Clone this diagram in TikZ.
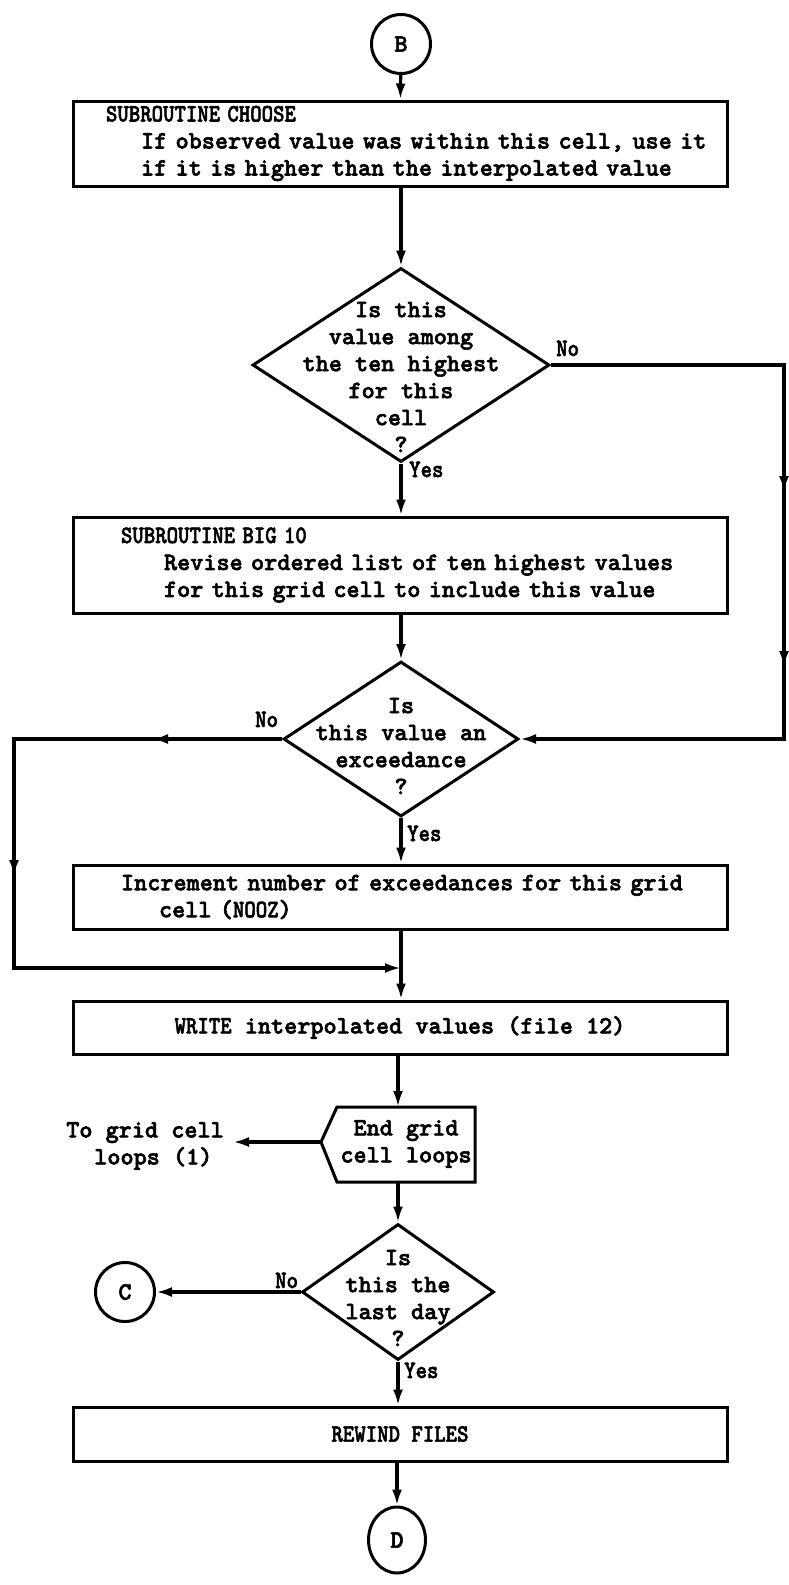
\documentclass[tikz,border=0pt]{standalone}
\usepackage{fontspec}
\usetikzlibrary{shapes.geometric,arrows.meta,decorations.markings}

% heavy typewriter face for all labels
\newfontfamily\tw{lmmonolt10-bold}[Extension=.otf, FakeBold=2.2]

\tikzset{
  flowline/.style={line width=3.2pt},
  flow/.style={flowline, ->},
  proc/.style={draw, line width=3pt, rectangle, minimum width=654pt, inner sep=0pt},
  decision/.style={draw, line width=3pt, diamond, inner sep=0pt},
  connector/.style={draw, line width=3pt, circle, minimum size=59pt, inner sep=0pt},
  txt/.style={align=center, inner sep=0pt},
  answer/.style={inner sep=0pt, anchor=base west},
  arrowsat/.style 2 args={postaction={decorate}, decoration={markings,
      mark=at position #1 with {\arrow{>}},
      mark=at position #2 with {\arrow{>}}}},
}
\newcommand{\narrow}[1]{\scalebox{0.87}[1]{#1}}

\begin{document}
\begin{tikzpicture}[x=1pt, y=-1pt,
  >={Latex[length=16pt,width=10pt]},
  every node/.style={font=\fontsize{25}{27}\selectfont\tw}]
\useasboundingbox (0,0) rectangle (789,1585);

% connectors at the ends
\node[connector] (B) at (401,44) {B};
\node[connector] (C) at (125,1292) {C};
\node[connector, ellipse, minimum width=57pt, minimum height=66pt] (D) at (397,1540) {D};

% process boxes
\node[proc, minimum height=85pt, text width=588pt, align=left] (choose) at (400,143.5)
  {\mbox{\narrow{SUBROUTINE CHOOSE}}\\
   \mbox{\hspace*{35pt}If observed value was within this cell, use it}\\
   \mbox{\hspace*{35pt}if it is higher than the interpolated value}};
\node[proc, minimum height=96pt, text width=558pt, align=left] (big) at (400,565)
  {\mbox{\narrow{SUBROUTINE BIG 10}}\\
   \mbox{\hspace*{43pt}Revise ordered list of ten highest values}\\
   \mbox{\hspace*{43pt}for this grid cell to include this value}};
\node[proc, minimum height=64pt, text width=558pt, align=left] (incr) at (400,897)
  {\mbox{Increment number of exceedances for this grid}\\
   \mbox{\hspace*{38pt}cell (\narrow{NOOZ})}};
\node[proc, minimum height=53pt] (write) at (400,1027.5)
  {\narrow{WRITE} interpolated values (file 12)};
\node[proc, minimum height=54pt] (rewind) at (400,1434)
  {\narrow{REWIND FILES}};

% decisions
\node[decision, minimum width=297pt, minimum height=194pt] (d1) at (401,365) {};
\node[txt] (d1t) at (401,377)
  {Is this\\value among\\the ten highest\\for this\\cell\\?};
\node[decision, minimum width=235pt, minimum height=155pt] (d2) at (401,739) {};
\node[txt] (d2t) at (401,746) {Is\\this value an\\exceedance\\?};
\node[decision, minimum width=192pt, minimum height=136pt] (d3) at (398,1292) {};
\node[txt] (d3t) at (398,1298) {Is\\this the\\last day\\?};

% loop end
\coordinate (lp) at (321,1142);
\draw[line width=3pt, line join=miter] (337,1107) -- (475,1107) -- (475,1182)
  -- (337,1182) -- (lp) -- cycle;
\node[txt] (loop) at (406,1144) {End grid\\cell loops};
\coordinate (loopN) at (398,1107);
\coordinate (loopS) at (398,1182);
\node[txt, align=left] (togrid) at (145,1146) {To grid cell\\\hspace*{28pt}loops (1)};
\coordinate (togridtip) at (233,1142);

% answer labels
\node[answer] (no1) at (556,356) {\narrow{No}};
\node[answer] (yes1) at (409,477) {\narrow{Yes}};
\node[answer] (no2) at (255,727) {\narrow{No}};
\node[answer] (yes2) at (407,841) {\narrow{Yes}};
\node[answer] (no3) at (275,1288) {\narrow{No}};
\node[answer] (yes3) at (404,1378) {\narrow{Yes}};

% bends and junctions
\coordinate (r1) at (784,365);
\coordinate (r2) at (784,739);
\coordinate (l1) at (14,739);
\coordinate (l2) at (14,968);
\coordinate (j) at (401,968);

% flow
\draw[flow] (B) -- (choose);
\draw[flow] (choose.south -| d1.north) -- (d1.north);
\draw[flow] (d1.south) -- (d1.south |- big.north);
\draw[flow, arrowsat={360pt}{535pt}] (d1.east) -- (r1) -- (r2) -- (d2.east);
\draw[flow] (big.south -| d2.north) -- (d2.north);
\draw[flow, arrowsat={130pt}{405pt}] (d2.west) -- (l1) -- (l2) -- (j);
\draw[flow] (d2.south) -- (d2.south |- incr.north);
\draw[flow] (incr.south -| j) -- (j |- write.north);
\draw[flow] (write.south -| loopN) -- (loopN);
\draw[flow] (lp) -- (togridtip);
\draw[flow] (loopS) -- (d3.north);
\draw[flow] (d3.west) -- (C);
\draw[flow] (d3.south) -- (d3.south |- rewind.north);
\draw[flow] (rewind.south -| D) -- (D);
\end{tikzpicture}
\end{document}
